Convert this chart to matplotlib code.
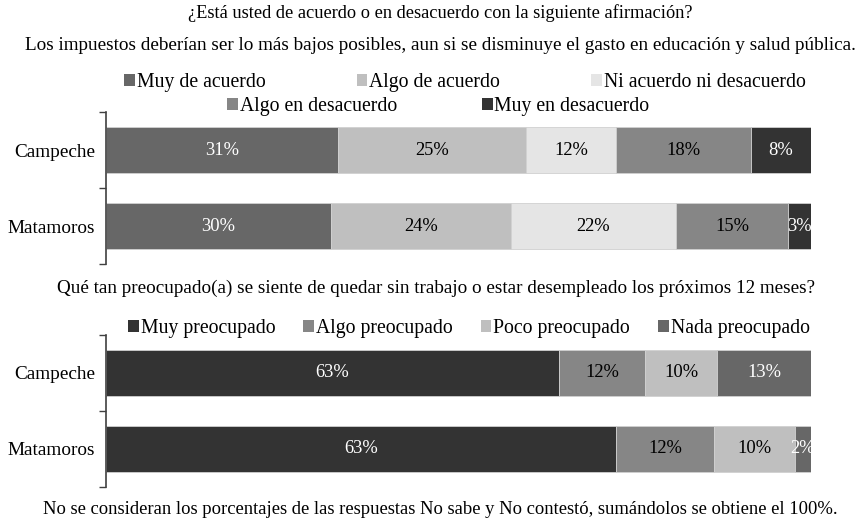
import matplotlib
matplotlib.use("Agg")
import matplotlib.pyplot as plt
from matplotlib.patches import Patch

plt.rcParams['font.family'] = ['Liberation Serif', 'DejaVu Serif']

ciudades = ['Campeche', 'Matamoros']

# Pregunta 1: impuestos vs gasto en educación y salud
cats_imp = ['Muy de acuerdo', 'Algo de acuerdo', 'Ni acuerdo ni desacuerdo',
            'Algo en desacuerdo', 'Muy en desacuerdo']
imp_campeche = [31, 25, 12, 18, 8]
imp_matamoros = [30, 24, 22, 15, 3]
col_imp = ['#676767', '#bfbfbf', '#e5e5e5', '#868686', '#333333']

# Pregunta 2: preocupación por quedar sin trabajo
cats_trab = ['Muy preocupado', 'Algo preocupado', 'Poco preocupado', 'Nada preocupado']
trab_campeche = [63, 12, 10, 13]
trab_matamoros = [63, 12, 10, 2]
col_trab = ['#333333', '#868686', '#bfbfbf', '#676767']

oscuros = ('#676767', '#333333')
FS_TIT = 13.8
FS_CAT = 13.9
FS_PCT = 13.3
FS_LEY = 14.2

fig = plt.figure(figsize=(8.66, 5.25), dpi=100)


def barras_100(ax, series, colores):
    # barras apiladas al 100%, etiquetas con el porcentaje original
    for i, vals in enumerate(series):
        total = sum(vals)
        izq = 0
        for v, c in zip(vals, colores):
            w = v / total * 100
            ax.barh(i, w, left=izq, height=0.61, color=c, edgecolor='#d0d0d0', linewidth=0.6)
            tc = 'white' if c in oscuros else 'black'
            ax.text(izq + w / 2, i, f'{v}%', ha='center', va='center', color=tc, fontsize=FS_PCT)
            izq += w
    ax.set_xlim(0, 100)
    ax.set_ylim(1.5, -0.5)
    ax.set_yticks([0, 1])
    ax.set_yticklabels(ciudades, fontsize=FS_CAT)
    ax.set_yticks([-0.5, 0.5, 1.5], minor=True)
    ax.tick_params(axis='y', which='major', length=0, pad=8)
    ax.tick_params(axis='y', which='minor', length=5, width=1, color='#404040')
    ax.set_xticks([])
    for s in ['top', 'right', 'bottom']:
        ax.spines[s].set_visible(False)
    ax.spines['left'].set_color('#404040')
    ax.spines['left'].set_linewidth(1.2)


ax1 = fig.add_axes([0.1224, 0.497, 0.814, 0.2895])
barras_100(ax1, [imp_campeche, imp_matamoros], col_imp)

ax2 = fig.add_axes([0.1224, 0.0724, 0.814, 0.2895])
barras_100(ax2, [trab_campeche, trab_matamoros], col_trab)

fig.text(0.508, 0.975, '¿Está usted de acuerdo o en desacuerdo con la siguiente afirmación?',
         ha='center', va='center', fontsize=13.2)
fig.text(0.509, 0.914, 'Los impuestos deberían ser lo más bajos posibles, aun si se disminuye '
         'el gasto en educación y salud pública.', ha='center', va='center', fontsize=FS_TIT)
fig.text(0.504, 0.451, 'Qué tan preocupado(a) se siente de quedar sin trabajo o estar '
         'desempleado los próximos 12 meses?', ha='center', va='center', fontsize=FS_TIT)
fig.text(0.509, 0.029, 'No se consideran los porcentajes de las respuestas No sabe y No contestó, '
         'sumándolos se obtiene el 100%.', ha='center', va='center', fontsize=13.4)

h_imp = [Patch(facecolor=c, label=l) for c, l in zip(col_imp, cats_imp)]
h_trab = [Patch(facecolor=c, label=l) for c, l in zip(col_trab, cats_trab)]

ley = dict(frameon=False, fontsize=FS_LEY, handlelength=0.55, handleheight=0.55,
           handletextpad=0.1, borderpad=0, borderaxespad=0, loc='center')
l1 = fig.legend(handles=h_imp[:3], ncol=3, columnspacing=4.6,
                bbox_to_anchor=(0.537, 0.843), **ley)
l2 = fig.legend(handles=h_imp[3:], ncol=2, columnspacing=4.3,
                bbox_to_anchor=(0.506, 0.798), **ley)
l3 = fig.legend(handles=h_trab, ncol=4, columnspacing=1.4,
                bbox_to_anchor=(0.5416, 0.375), **ley)

fig.savefig('out.png', dpi=100)
